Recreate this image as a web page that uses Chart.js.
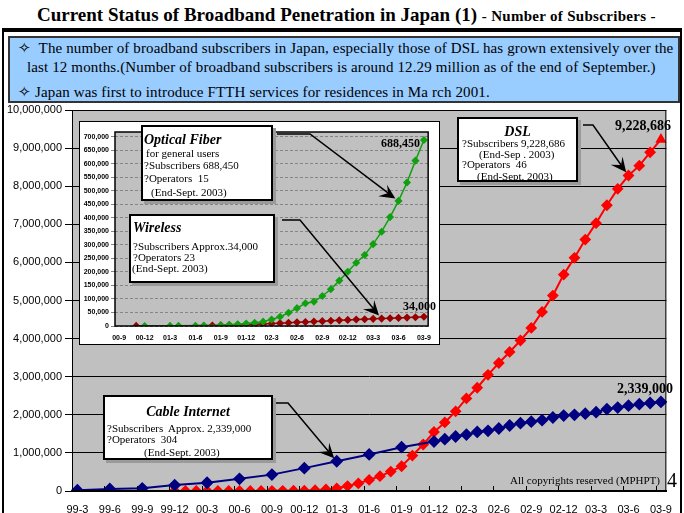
<!DOCTYPE html>
<html>
<head>
<meta charset="utf-8">
<script src="https://cdn.jsdelivr.net/npm/chart.js@4.4.0/dist/chart.umd.min.js"></script>
<style>
  body { margin: 0; width: 684px; height: 513px; overflow: hidden; background: #fff; position: relative;
         font-family: 'Liberation Serif', 'Times New Roman', serif; color: #000; }
  .abs { position: absolute; white-space: pre; }
  #title { left: 37px; top: 4px; font-weight: bold; font-size: 19px; line-height: 22px; }
  #title span { font-size: 15px; letter-spacing: 0.3px; }
  #frame { left: 2px; top: 28px; width: 676px; height: 500px; border-left: 2px solid #000; border-right: 2px solid #000; border-top: 4px solid #000; }
  #note { left: 8px; top: 36px; width: 668px; height: 63px; background: #99ccff; border: 2px solid #333; font-size: 15px; letter-spacing: 0.13px; }
  #note .abs { line-height: 18px; }
  #main { position: absolute; left: 0; top: 100px; }
  #insetBox { position: absolute; left: 79px; top: 121px; width: 359px; height: 222px; background: #fff; border: 1px solid #000; }
  #inset { position: absolute; left: 0; top: 0; }
  .callout { position: absolute; background: #fff; border: 2px solid #000; box-shadow: 3px 3px 0 #9a9a9a; }
  .callout .abs { font-size: 11px; line-height: 12px; }
  .callout .abs.head { font-size: 14px; line-height: 16px; font-weight: bold; font-style: italic; }
  .val { font-weight: bold; }
</style>
</head>
<body>
<div id="title" class="abs">Current Status of Broadband Penetration in Japan (1) <span>- Number of Subscribers -</span></div>
<div id="frame" class="abs"></div>
<div id="note" class="abs">
  <div class="abs" style="left:8px;top:1px">✧  The number of broadband subscribers in Japan, especially those of DSL has grown extensively over the</div>
  <div class="abs" style="left:17px;top:20px">last 12 months.(Number of broadband subscribers is around 12.29 million as of the end of September.)</div>
  <div class="abs" style="left:8px;top:45px">✧ Japan was first to introduce FTTH services for residences in Ma rch 2001.</div>
</div>

<canvas id="main" width="684" height="413"></canvas>

<div id="insetBox"><canvas id="inset" width="359" height="222"></canvas></div>

<div class="callout" style="left:141px;top:125px;width:128px;height:72px">
  <div class="abs head" style="left:1px;top:5px">Optical Fiber</div>
  <div class="abs" style="left:3px;top:20px">for general users</div>
  <div class="abs" style="left:1px;top:32px">?Subscribers 688,450</div>
  <div class="abs" style="left:1px;top:45px">?Operators  15</div>
  <div class="abs" style="left:8px;top:59px">(End-Sept. 2003)</div>
</div>
<div class="callout" style="left:129px;top:214px;width:142px;height:65px">
  <div class="abs head" style="left:2px;top:4px">Wireless</div>
  <div class="abs" style="left:2px;top:24px">?Subscribers Approx.34,000</div>
  <div class="abs" style="left:2px;top:35px">?Operators 23</div>
  <div class="abs" style="left:1px;top:46px">(End-Sept. 2003)</div>
</div>
<div class="callout" style="left:457px;top:117px;width:117px;height:61px">
  <div class="abs head" style="left:0;width:117px;text-align:center;top:5px">DSL</div>
  <div class="abs" style="left:3px;top:18px">?Subscribers 9,228,686</div>
  <div class="abs" style="left:20px;top:29px">(End-Sep . 2003)</div>
  <div class="abs" style="left:3px;top:39px">?Operators  46</div>
  <div class="abs" style="left:18px;top:51px">(End-Sept. 2003)</div>
</div>
<div class="callout" style="left:103px;top:395px;width:166px;height:61px">
  <div class="abs head" style="left:0;width:166px;text-align:center;top:7px">Cable Internet</div>
  <div class="abs" style="left:2px;top:25px">?Subscribers  Approx. 2,339,000</div>
  <div class="abs" style="left:2px;top:36px">?Operators  304</div>
  <div class="abs" style="left:39px;top:49px">(End-Sept. 2003)</div>
</div>

<div class="abs val" style="left:370px;width:50px;text-align:right;top:136px;font-size:12px;line-height:14px">688,450</div>
<div class="abs val" style="left:403px;top:299px;font-size:12px;line-height:14px">34,000</div>
<div class="abs val" style="left:615px;top:118px;font-size:14px;line-height:16px">9,228,686</div>
<div class="abs val" style="left:617px;top:381px;font-size:14px;line-height:16px">2,339,000</div>
<div class="abs" style="left:510px;top:473px;font-size:11px;line-height:14px">All copyrights reserved (MPHPT)</div>
<div class="abs" style="left:667px;top:468px;font-size:20px;line-height:24px">4</div>

<script>
// month categories of the main chart (99-3 .. 03-9)
const months = ['99-3','99-4','99-5','99-6','99-7','99-8','99-9','99-10','99-11','99-12',
  '00-1','00-2','00-3','00-4','00-5','00-6','00-7','00-8','00-9','00-10','00-11','00-12',
  '01-1','01-2','01-3','01-4','01-5','01-6','01-7','01-8','01-9','01-10','01-11','01-12',
  '02-1','02-2','02-3','02-4','02-5','02-6','02-7','02-8','02-9','02-10','02-11','02-12',
  '03-1','03-2','03-3','03-4','03-5','03-6','03-7','03-8','03-9'];

// cable internet subscribers (quarterly until 01-12, then monthly)
const cableSubs = [20000, null, null, 55000, null, null, 70000, null, null, 155000, null, null,
  216000, null, null, 320000, null, null, 430000, null, null, 600000, null, null,
  780000, null, null, 960000, null, null, 1150000, null, null, 1300000,
  1360000, 1430000, 1480000, 1550000, 1580000, 1640000, 1720000, 1780000, 1820000, 1860000, 1930000, 1980000,
  2000000, 2030000, 2070000, 2150000, 2190000, 2240000, 2280000, 2310000, 2339000];

// DSL subscribers (from 99-12)
const dslSubs = [null, null, null, null, null, null, null, null, null, 200,
  300, 500, 700, 900, 1200, 1500, 2000, 2600, 3500, 5000, 7000, 9700,
  20000, 40000, 70000, 130000, 200000, 290000, 390000, 510000, 650000, 930000, 1220000, 1550000,
  1800000, 2090000, 2430000, 2710000, 3050000, 3360000, 3650000, 3950000, 4280000, 4700000, 5130000, 5680000,
  6120000, 6600000, 7030000, 7500000, 7930000, 8280000, 8540000, 8890000, 9228686];

// inset chart categories (00-9 .. 03-9)
const insetMonths = ['00-9','00-10','00-11','00-12',
  '01-1','01-2','01-3','01-4','01-5','01-6','01-7','01-8','01-9','01-10','01-11','01-12',
  '02-1','02-2','02-3','02-4','02-5','02-6','02-7','02-8','02-9','02-10','02-11','02-12',
  '03-1','03-2','03-3','03-4','03-5','03-6','03-7','03-8','03-9'];

const fiberSubs = [null, null, null, 100, null, null, 300, 500, null, 1000, 1500, null,
  3000, 4500, 6500, 9000, 12000, 16000, 24000, 34000, 49000, 66000, 84000, 90000,
  111000, 136000, 168000, 201000, 234000, 263000, 303000, 349000, 403000, 463000, 531000, 612000, 688450];

const wirelessSubs = [null, null, 300, null, null, null, null, null, null, null, null,
  2000, 2500, 3500, 4500, 5500, 6500, 7500, 9000, 10500, 12000, 13500, 15000, 16500,
  18000, 19500, 21000, 22500, 24000, 25000, 26500, 27500, 28500, 30000, 31000, 32500, 34000];

// inset y-axis tick values
const insetTicks = [0, 50000, 100000, 150000, 200000, 250000, 300000, 350000,
  400000, 450000, 500000, 550000, 600000, 650000, 700000];

const sansFont = "'Liberation Sans', Arial, sans-serif";

function drawArrow(ctx, pts, target) {
    const last = pts[pts.length - 1];
    const ang = Math.atan2(target.y - last[1], target.x - last[0]);
    const c = Math.cos(ang), s = Math.sin(ang);
    const tx = target.x - c * 4, ty = target.y - s * 4;
    ctx.save();
    ctx.strokeStyle = '#000';
    ctx.fillStyle = '#000';
    ctx.lineWidth = 1.5;
    ctx.beginPath();
    ctx.moveTo(pts[0][0], pts[0][1]);
    pts.slice(1).forEach(p => ctx.lineTo(p[0], p[1]));
    ctx.lineTo(tx - c * 8, ty - s * 8);
    ctx.stroke();
    const L = 15, W = 6;
    const bx = tx - c * L, by = ty - s * L;
    ctx.beginPath();
    ctx.moveTo(tx, ty);
    ctx.lineTo(bx + s * W, by - c * W);
    ctx.lineTo(tx - c * L * 0.6, ty - s * L * 0.6);
    ctx.lineTo(bx - s * W * 1.4, by + c * W * 1.4);
    ctx.closePath();
    ctx.fill();
    ctx.restore();
}

const mainDecor = {
    id: 'mainDecor',
    beforeDraw(chart) {
        const { ctx, chartArea: a } = chart;
        ctx.save();
        ctx.fillStyle = '#c0c0c0';
        ctx.fillRect(a.left, a.top, a.width, a.height);
        ctx.restore();
    },
    afterDraw(chart) {
        const { ctx, chartArea: a } = chart;
        const x = chart.scales.x;
        ctx.save();
        ctx.strokeStyle = '#000';
        ctx.lineWidth = 1;
        ctx.strokeRect(a.left + 0.5, a.top + 0.5, a.width - 1, a.height - 1);
        // small inner tick marks every quarter
        const half = (x.getPixelForValue(1) - x.getPixelForValue(0)) / 2;
        ctx.beginPath();
        for (let i = 0; i < months.length; i += 3) {
            const px = Math.round(x.getPixelForValue(i) - half) + 0.5;
            ctx.moveTo(px, a.bottom);
            ctx.lineTo(px, a.bottom - 5);
        }
        ctx.stroke();
        ctx.restore();
        drawArrow(ctx, [[583, 25], [593, 25]], chart.getDatasetMeta(1).data[51]);
        drawArrow(ctx, [[275, 303], [288, 303]], chart.getDatasetMeta(0).data[24]);
    }
};

const insetDecor = {
    id: 'insetDecor',
    beforeDraw(chart) {
        const { ctx, chartArea: a } = chart;
        ctx.save();
        ctx.fillStyle = '#c0c0c0';
        ctx.fillRect(a.left, a.top, a.width, a.height);
        ctx.restore();
    },
    afterDraw(chart) {
        const { ctx, chartArea: a } = chart;
        ctx.save();
        ctx.strokeStyle = '#000';
        ctx.lineWidth = 1.5;
        ctx.strokeRect(a.left, a.top, a.width, a.height);
        ctx.restore();
        drawArrow(ctx, [[197, 12], [230, 12]], chart.getDatasetMeta(0).data[33]);
        drawArrow(ctx, [[202, 98], [220, 98]], chart.getDatasetMeta(1).data[31]);
    }
};

new Chart(document.getElementById('main').getContext('2d'), {
    type: 'line',
    data: {
        labels: months,
        datasets: [{
            label: 'Cable Internet',
            data: cableSubs,
            borderColor: '#000080',
            backgroundColor: '#000080',
            borderWidth: 2,
            pointStyle: 'rectRot',
            pointRadius: 5,
            spanGaps: true
        }, {
            label: 'DSL',
            data: dslSubs,
            borderColor: '#ff0000',
            backgroundColor: '#ff0000',
            borderWidth: 2,
            pointStyle: dslSubs.map((v, i) => i === dslSubs.length - 1 ? 'triangle' : 'rectRot'),
            pointRadius: 4.5,
            spanGaps: true
        }]
    },
    options: {
        responsive: false,
        animation: false,
        layout: { padding: { top: 10, right: 7, left: 0, bottom: 0 } },
        plugins: { legend: { display: false }, tooltip: { enabled: false } },
        scales: {
            x: {
                offset: true,
                grid: { display: false, drawTicks: false },
                border: { color: '#000', width: 2 },
                ticks: {
                    autoSkip: false, maxRotation: 0, padding: 12, color: '#000',
                    font: { family: sansFont, size: 11 },
                    callback: (v, i) => i % 3 === 0 ? months[i] : ''
                },
                afterFit: s => { s.height = 22; }
            },
            y: {
                min: 0, max: 10000000,
                grid: { color: '#000', lineWidth: 1, tickLength: 7 },
                border: { color: '#000', width: 1 },
                ticks: {
                    stepSize: 1000000, padding: 3, color: '#000',
                    font: { family: sansFont, size: 11 },
                    callback: v => v.toLocaleString('en-US')
                },
                afterFit: s => { s.width = 72; }
            }
        }
    },
    plugins: [mainDecor]
});

new Chart(document.getElementById('inset').getContext('2d'), {
    type: 'line',
    data: {
        labels: insetMonths,
        datasets: [{
            label: 'Optical Fiber',
            data: fiberSubs,
            borderColor: '#10a010',
            backgroundColor: '#10a010',
            borderWidth: 1.5,
            pointStyle: 'rectRot',
            pointRadius: 3,
            spanGaps: true
        }, {
            label: 'Wireless',
            data: wirelessSubs,
            borderColor: '#990000',
            backgroundColor: '#990000',
            borderWidth: 1.5,
            pointStyle: 'rectRot',
            pointRadius: 3,
            spanGaps: true
        }]
    },
    options: {
        responsive: false,
        animation: false,
        layout: { padding: { top: 10, right: 4, left: 0, bottom: 0 } },
        plugins: { legend: { display: false }, tooltip: { enabled: false } },
        scales: {
            x: {
                offset: true,
                grid: { display: false, drawTicks: false },
                border: { display: false },
                ticks: {
                    autoSkip: false, maxRotation: 0, padding: 8, color: '#000',
                    font: { family: sansFont, size: 7, weight: 'bold' },
                    callback: (v, i) => i % 3 === 0 ? insetMonths[i] : ''
                },
                afterFit: s => { s.height = 18; }
            },
            y: {
                min: 0, max: 718000,
                afterBuildTicks: s => { s.ticks = insetTicks.map(v => ({ value: v })); },
                grid: { color: '#858585', lineWidth: 1, tickLength: 4 },
                border: { display: false, dash: [3, 2] },
                ticks: {
                    autoSkip: false, padding: 2, color: '#000',
                    font: { family: sansFont, size: 7, weight: 'bold' },
                    callback: v => v.toLocaleString('en-US')
                },
                afterFit: s => { s.width = 35; }
            }
        }
    },
    plugins: [insetDecor]
});
</script>
</body>
</html>
